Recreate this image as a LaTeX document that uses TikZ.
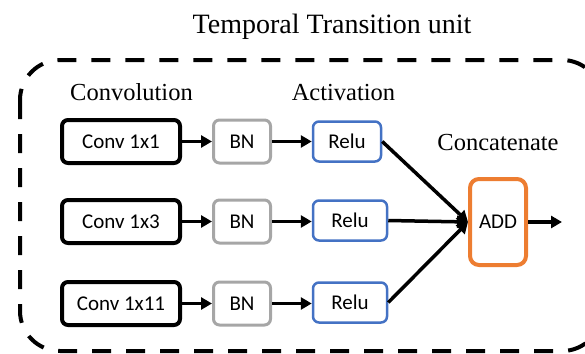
\documentclass[tikz,border=0pt]{standalone}
\usepackage{fontspec}
\setmainfont{Liberation Serif}
\newfontfamily\boxfont{Carlito}
\usetikzlibrary{arrows.meta}
\definecolor{relublue}{HTML}{4472C4}
\definecolor{addorange}{HTML}{ED7D31}
\definecolor{bngray}{HTML}{A6A6A6}
\tikzset{
  x=1pt, y=-1pt,
  boxbase/.style={rounded corners=6pt, align=center, inner sep=0pt, font=\boxfont\fontsize{21}{24}\selectfont},
  convbox/.style={boxbase, draw=black, line width=4pt, minimum width=118pt, minimum height=43pt},
  bnbox/.style={boxbase, draw=bngray, line width=3pt, minimum width=57pt, minimum height=43pt},
  relubox/.style={boxbase, draw=relublue, line width=2.5pt, minimum height=40pt},
  addbox/.style={boxbase, draw=addorange, line width=4pt, minimum width=56pt, minimum height=86pt, rounded corners=9pt},
  heading/.style={inner sep=0pt, font=\fontsize{24.5}{28}\selectfont},
  arr/.style={line width=3.5pt, -{Triangle[length=11pt,width=12pt]}},
  frame/.style={line width=4pt, dash pattern=on 19pt off 15pt, rounded corners=40pt}
}
\begin{document}
\begin{tikzpicture}
\useasboundingbox (0,0) rectangle (585,353);
\clip (0,0) rectangle (585,353);
\draw[frame] (20,60) rectangle (602,351);
\node[heading, font=\fontsize{28}{32}\selectfont, anchor=base] (title) at (332,34) {Temporal Transition unit};
\node[heading] (lconv) at (131.5,92) {Convolution};
\node[heading] (lact) at (343.5,93) {Activation};
\node[heading] (lconcat) at (498,143) {Concatenate};
\node[convbox] (c1) at (121,141.5) {Conv 1x1};
\node[convbox] (c2) at (121,221.5) {Conv 1x3};
\node[convbox] (c3) at (121,303.5) {Conv 1x11};
\node[bnbox] (b1) at (242,141.5) {BN};
\node[bnbox] (b2) at (242,221.5) {BN};
\node[bnbox] (b3) at (242,303.5) {BN};
\node[relubox, minimum width=68pt] (r1) at (347,141.5) {Relu};
\node[relubox, minimum width=74pt] (r2) at (350,220.5) {Relu};
\node[relubox, minimum width=74pt] (r3) at (350,302.5) {Relu};
\node[addbox] (add) at (498,222) {ADD};
\coordinate (out) at (562,222);
\foreach \i in {1,2,3}{
  \draw[arr] (c\i) -- (b\i);
  \draw[arr] (b\i) -- (r\i.west |- b\i);
}
\draw[arr] (r1.east) -- (add.west);
\draw[arr] (r2.east) -- (add.west);
\draw[arr] (r3.east) -- (add.west);
\draw[arr] (add.east) -- (out);
\end{tikzpicture}
\end{document}
